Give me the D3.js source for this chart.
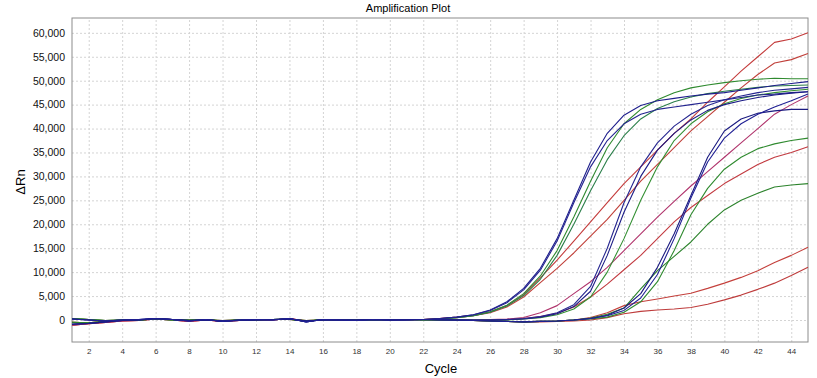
<!DOCTYPE html>
<html lang="en">
<head>
<meta charset="UTF-8">
<title>Amplification Plot</title>
<script src="https://d3js.org/d3.v7.min.js"></script>
<style>
    body { margin: 0; background: #fff; }
    text { font-family: "Liberation Sans", Arial, sans-serif; }
    .grid line { stroke: #d4d4d4; stroke-dasharray: 2,2; }
    .grid path { display: none; }
</style>
</head>
<body>
<div id="chart"></div>
<script>
    // cycle numbers and tick labels
    const cycles = d3.range(1, 46);
    const xTicks = d3.range(2, 45, 2);
    const yTicks = d3.range(0, 60001, 5000);

    // delta Rn per cycle, in thousands (cycles 1..45)
    const blue1 = [-0.9,-0.7,-0.4,-0.1,0,0.3,0.1,-0.1,0,-0.2,-0.1,0,0.1,0.2,-0.2,0,0,0,0.1,0,0.1,0.1,
        0.3,0.6,1.1,2.1,3.8,6.6,10.8,17,25,33,39,42.8,44.8,45.8,46.3,46.8,47.2,47.5,48,48.5,49,49.4,49.8];
    const blue2 = [0.2,0,-0.2,0,0.1,0.3,0.1,-0.2,0.1,-0.3,0,0.1,0,0.3,-0.4,0.1,0,-0.1,0.1,0,0,0.1,
        0.3,0.6,1.1,2,3.6,6.3,10.4,16.5,24.5,32,37.5,41,43,44,44.5,45,45.5,46,46.5,47,47.2,47.5,47.7];
    const green1 = [-0.5,-0.6,-0.3,0,0,0.2,0.1,0,0,-0.1,0,0,0.1,0.1,-0.1,0,0.1,0,0,0.1,0.1,0.1,
        0.2,0.5,0.9,1.7,3.1,5.5,9.2,14.5,21.5,29,36,41,44,46,47.5,48.5,49.1,49.6,50,50.3,50.5,50.4,50.4];
    const green2 = [0.3,0.1,-0.1,0,0,0.2,0,-0.1,0.1,-0.2,0,0.1,0.1,0.2,-0.3,0.1,0,0,0.1,0,0.1,0,
        0.2,0.5,0.9,1.6,2.9,5.1,8.5,13.5,20,27,33.5,38.5,42,44.2,45.6,46.6,47.3,47.8,48.2,48.6,48.9,49,49.1];
    const red1 = [-1.1,-0.8,-0.5,-0.2,-0.1,0.2,0,-0.3,0,-0.3,-0.1,0,0,0.3,-0.2,0,0,0.1,0.1,0,0,0.1,
        0.3,0.6,1,1.7,3,5.3,8.8,12.5,16.5,20.5,24.5,28.5,32,35.5,39,42,45.5,48.7,52,55,58,58.7,60];
    const red2 = [-0.5,-0.6,-0.3,0,0,0.2,0.1,0,0,-0.1,0,0,0.1,0.1,-0.1,0,0.1,0,0,0.1,0.1,0.1,
        0.3,0.5,0.9,1.5,2.7,4.8,7.8,10.8,14,17.5,21,25,29,32.5,36,39.5,42.5,45.5,48.5,51.3,53.7,54.4,55.7];
    const blue3 = [0.2,0,-0.2,0,0.1,0.3,0.1,-0.2,0.1,-0.3,0,0.1,0,0.3,-0.4,0.1,0,-0.1,0.1,0,0,0.1,
        0.1,0,0,0,0.1,0.2,0.6,1.3,2.8,6,13.5,22.5,30,35.5,39,41.8,43.8,45,45.8,46.5,47,47.4,47.7];
    const blue4 = [-0.9,-0.7,-0.4,-0.1,0,0.3,0.1,-0.1,0,-0.2,-0.1,0,0.1,0.2,-0.2,0,0,0,0.1,0,0.1,0.1,
        0.1,0,0,0,0.1,0.3,0.7,1.5,3.2,7,15,24.5,32,37,40.5,43,44.8,46,46.8,47.5,48,48.3,48.6];
    const green3 = [0.3,0.1,-0.1,0,0,0.2,0,-0.1,0.1,-0.2,0,0.1,0.1,0.2,-0.3,0.1,0,0,0.1,0,0.1,0,
        0,0,0,0,0,0.2,0.5,1.1,2.3,4.8,10,17,25,32,37.5,41,43.5,45.2,46.3,47,47.5,47.9,48.2];
    const magenta1 = [-1.1,-0.8,-0.5,-0.2,-0.1,0.2,0,-0.3,0,-0.3,-0.1,0,0,0.3,-0.2,0,0,0.1,0.1,0,0,0.1,
        0.1,0,0,0.1,0.2,0.5,1.5,3,5.5,8,11,14.5,18,21.5,24.8,28,31,34,37,40,43,45,46.8];
    const red3 = [-0.5,-0.6,-0.3,0,0,0.2,0.1,0,0,-0.1,0,0,0.1,0.1,-0.1,0,0.1,0,0,0.1,0.1,0.1,
        0,0,0,0,0.1,0.3,0.7,1.4,2.7,4.8,7.5,10.5,13.5,17,20.5,23.5,26,28.5,30.5,32.5,34,35,36.2];
    const blue5 = [-0.9,-0.7,-0.4,-0.1,0,0.3,0.1,-0.1,0,-0.2,-0.1,0,0.1,0.2,-0.2,0,0,0,0.1,0,0.1,0.1,
        0,0,-0.1,-0.2,-0.3,-0.4,-0.3,-0.2,0,0.3,1,2.5,5.5,11,18,26,34,39.5,42,43.2,43.7,44,44];
    const blue6 = [0.2,0,-0.2,0,0.1,0.3,0.1,-0.2,0.1,-0.3,0,0.1,0,0.3,-0.4,0.1,0,-0.1,0.1,0,0,0.1,
        0,0,-0.1,-0.2,-0.3,-0.4,-0.3,-0.2,0,0.3,0.9,2,4.6,9.5,17,25.5,33,38,41,43,44.5,45.8,47.2];
    const green4 = [0.3,0.1,-0.1,0,0,0.2,0,-0.1,0.1,-0.2,0,0.1,0.1,0.2,-0.3,0.1,0,0,0.1,0,0.1,0,
        0,0,-0.1,-0.2,-0.3,-0.4,-0.3,-0.2,0,0.2,0.6,1.6,3.8,8,14.5,22,27.5,31.5,34,35.8,36.8,37.5,38];
    const green5 = [-0.5,-0.6,-0.3,0,0,0.2,0.1,0,0,-0.1,0,0,0.1,0.1,-0.1,0,0.1,0,0,0.1,0.1,0.1,
        0,0,-0.1,-0.2,-0.3,-0.4,-0.3,-0.2,0,0.4,1.2,2.5,6.5,10.3,13.3,16.3,20,23,25,26.5,27.8,28.2,28.5];
    const red4 = [-1.1,-0.8,-0.5,-0.2,-0.1,0.2,0,-0.3,0,-0.3,-0.1,0,0,0.3,-0.2,0,0,0.1,0.1,0,0,0.1,
        0,0,-0.1,-0.2,-0.3,-0.4,-0.3,-0.2,0,0.5,1.5,3,3.8,4.4,5,5.6,6.6,7.7,8.9,10.3,12,13.5,15.2];
    const red5 = [0.3,0.1,-0.1,0,0,0.2,0,-0.1,0.1,-0.2,0,0.1,0.1,0.2,-0.3,0.1,0,0,0.1,0,0.1,0,
        0,0,-0.1,-0.2,-0.3,-0.4,-0.4,-0.3,-0.2,0,0.5,1.3,1.8,2.1,2.3,2.6,3.3,4.2,5.2,6.4,7.7,9.3,11];

    const series = [red1, red2, red3, red4, red5, magenta1,
        green1, green2, green3, green4, green5,
        blue1, blue2, blue3, blue4, blue5, blue6];
    const colors = ["#c43c3c", "#c0403a", "#c23a40", "#c4403c", "#be3c3c", "#b0346c",
        "#2f8a2f", "#2b7f4a", "#339033", "#2f8a2f", "#2c832c",
        "#1e1e8c", "#23238f", "#1c1c86", "#262690", "#1a1a80", "#202094"];

    const width = 817, height = 378;
    const margin = { top: 18, right: 9, bottom: 36, left: 72 };

    const svg = d3.select("#chart").append("svg")
        .attr("width", width)
        .attr("height", height)
        .style("background", "#fff");

    const x = d3.scaleLinear().domain([1, 45]).range([margin.left, width - margin.right]);
    const y = d3.scaleLinear().domain([-4600, 63100]).range([height - margin.bottom, margin.top]);

    // grid
    svg.append("g").attr("class", "grid")
        .attr("transform", `translate(0,${height - margin.bottom})`)
        .call(d3.axisBottom(x).tickValues(xTicks).tickSize(-(height - margin.top - margin.bottom)).tickFormat(""));
    svg.append("g").attr("class", "grid")
        .attr("transform", `translate(${margin.left},0)`)
        .call(d3.axisLeft(y).tickValues(yTicks).tickSize(-(width - margin.left - margin.right)).tickFormat(""));

    // frame
    svg.append("rect")
        .attr("x", margin.left).attr("y", margin.top)
        .attr("width", width - margin.left - margin.right)
        .attr("height", height - margin.top - margin.bottom)
        .attr("fill", "none").attr("stroke", "#8c8c8c");

    // curves
    const line = d3.line()
        .x((d, i) => x(cycles[i]))
        .y(d => y(d * 1000));

    svg.append("g")
        .selectAll("path")
        .data(series)
        .join("path")
        .attr("d", line)
        .attr("fill", "none")
        .attr("stroke", (d, i) => colors[i])
        .attr("stroke-width", 1.1)
        .attr("stroke-linejoin", "round");

    // axes labels
    const xAxis = svg.append("g")
        .attr("transform", `translate(0,${height - margin.bottom})`)
        .call(d3.axisBottom(x).tickValues(xTicks).tickSize(0).tickPadding(6));
    xAxis.select(".domain").remove();
    xAxis.selectAll("text").attr("font-size", 8).attr("fill", "#333");

    const yAxis = svg.append("g")
        .attr("transform", `translate(${margin.left},0)`)
        .call(d3.axisLeft(y).tickValues(yTicks).tickSize(0).tickPadding(7).tickFormat(d3.format(",")));
    yAxis.select(".domain").remove();
    yAxis.selectAll("text").attr("font-size", 10.5).attr("fill", "#111");

    svg.append("text")
        .attr("x", 408).attr("y", 12)
        .attr("text-anchor", "middle")
        .attr("font-size", 11)
        .text("Amplification Plot");

    svg.append("text")
        .attr("x", 441).attr("y", 373)
        .attr("text-anchor", "middle")
        .attr("font-size", 13)
        .text("Cycle");

    svg.append("text")
        .attr("transform", "translate(25,182) rotate(-90)")
        .attr("text-anchor", "middle")
        .attr("font-size", 13)
        .text("ΔRn");
</script>
</body>
</html>
